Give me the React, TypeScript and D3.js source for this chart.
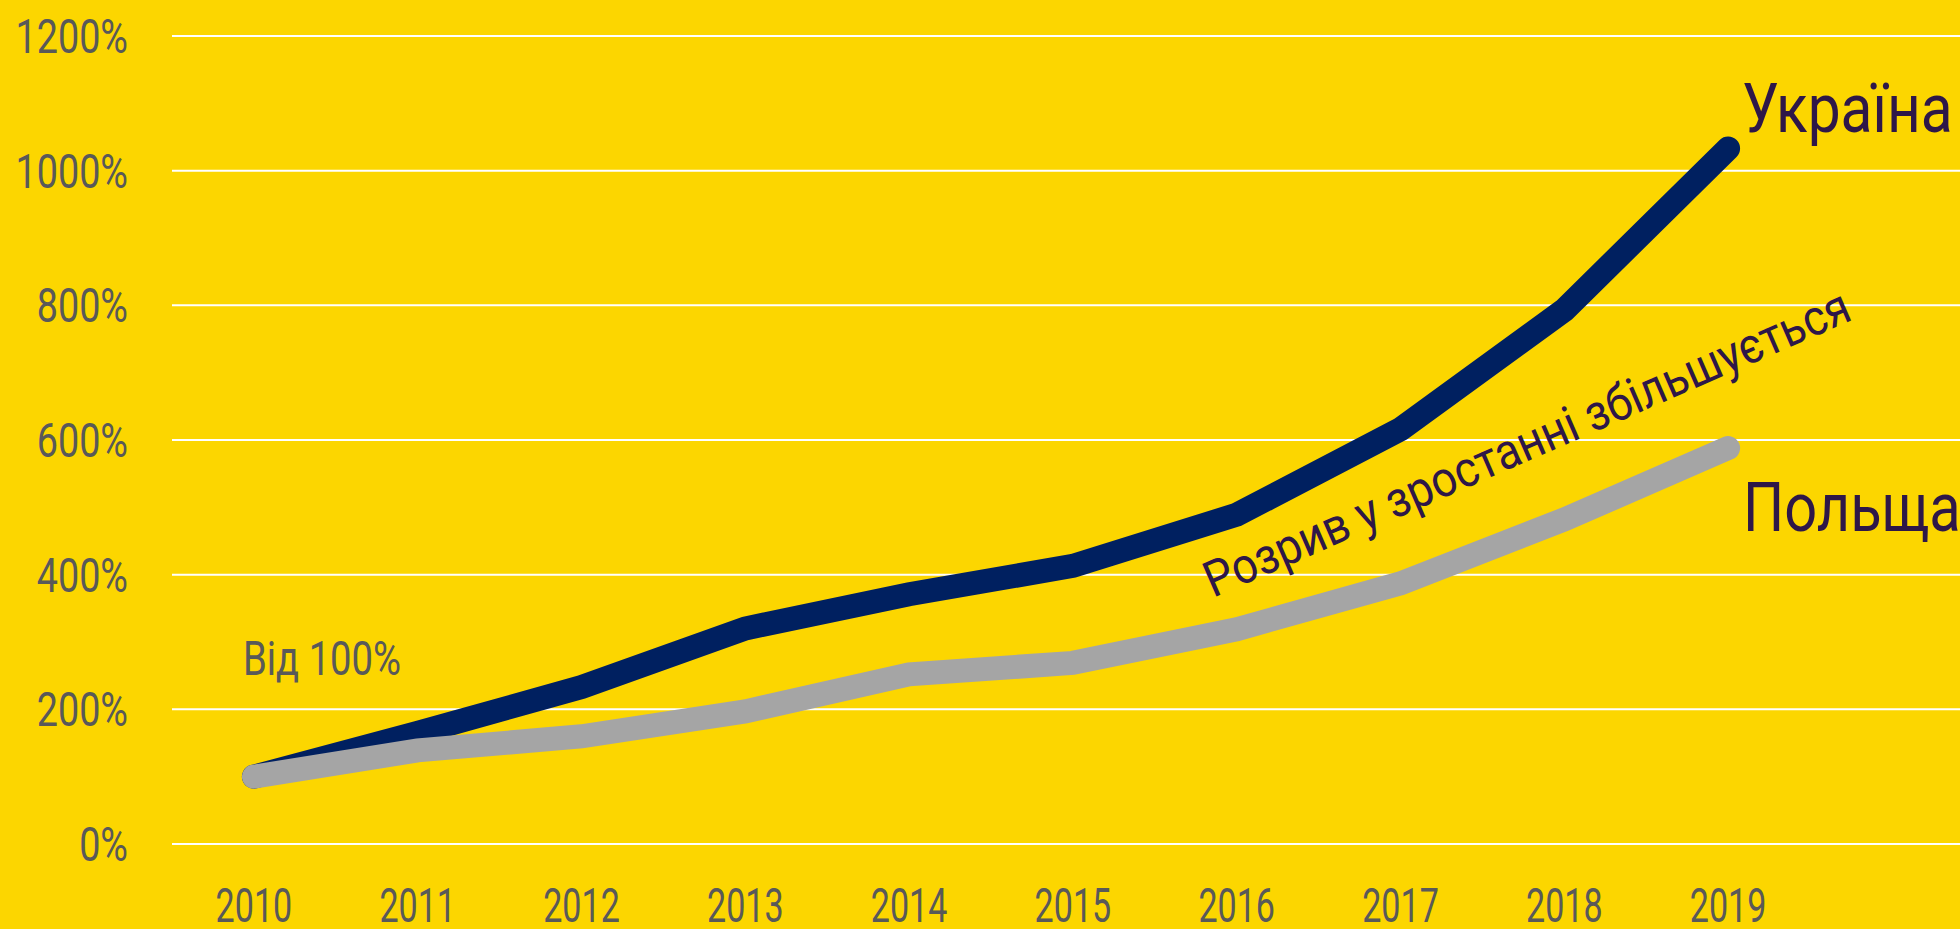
import { scaleLinear, scaleBand, line } from "d3"

const years = ["2010","2011","2012","2013","2014","2015","2016","2017","2018","2019"]
const ukraine = [100,165,233,320,371,413,489,616,793,1033]
const poland = [100,139,160,197,252,269,319,387,482,588]
const yTicks = [0,200,400,600,800,1000,1200]

const W = 1960
const H = 929
const BG = '#FCD600'
const TICK = '#595959'
const LABEL = '#2E1748'
const FONT = 'Roboto, sans-serif'

function App(){
    const x = scaleBand().domain(years).range([172, 1810])
    const y = scaleLinear().domain([0,1200]).range([844, 36])
    const cx = (yr: string) => (x(yr) as number) + x.bandwidth() / 2

    const path = line<number>()
                  .x((d,i) => cx(years[i]))
                  .y(d => y(d))

    return(
        <svg
        width={W}
        height={H}
        style={{position : 'absolute', left : 0, top : 0, display : 'block', background : BG}}
        >
            <rect width={W} height={H} fill={BG}/>
            {yTicks.map(t => (
                <g key={t}>
                    <line x1={172} x2={W} y1={y(t)} y2={y(t)} stroke='#fff' strokeWidth={2}/>
                    <text
                    transform={`translate(128,${y(t) + 17}) scale(0.77,1)`}
                    textAnchor='end'
                    fontFamily={FONT}
                    fontSize={49}
                    fill={TICK}
                    >
                        {t}%
                    </text>
                </g>
            ))}
            {years.map(yr => (
                <text
                key={yr}
                transform={`translate(${cx(yr)},922) scale(0.71,1)`}
                textAnchor='middle'
                fontFamily={FONT}
                fontSize={48}
                fill={TICK}
                >
                    {yr}
                </text>
            ))}
            <path
            d={path(ukraine) as string}
            fill='none'
            stroke='#002060'
            strokeWidth={24}
            strokeLinecap='round'
            strokeLinejoin='miter'
            />
            <path
            d={path(poland) as string}
            fill='none'
            stroke='#A5A5A5'
            strokeWidth={24}
            strokeLinecap='round'
            strokeLinejoin='miter'
            />
            <text
            transform={`translate(243,675) scale(0.78,1)`}
            fontFamily={FONT}
            fontSize={49}
            fill={TICK}
            >
                Від 100%
            </text>
            <text
            transform={`translate(1742,${y(ukraine[9]) - 16}) scale(0.85,1)`}
            fontFamily={FONT}
            fontSize={69}
            fill={LABEL}
            >
                Україна
            </text>
            <text
            transform={`translate(1743,${y(poland[9]) + 83}) scale(0.85,1)`}
            fontFamily={FONT}
            fontSize={68}
            fill={LABEL}
            >
                Польща
            </text>
            <text
            transform={`translate(1213,598) rotate(-23.5) scale(0.9,1)`}
            fontFamily={FONT}
            fontSize={50}
            fill={LABEL}
            >
                Розрив у зростанні збільшується
            </text>
        </svg>
    )
}
export default App
